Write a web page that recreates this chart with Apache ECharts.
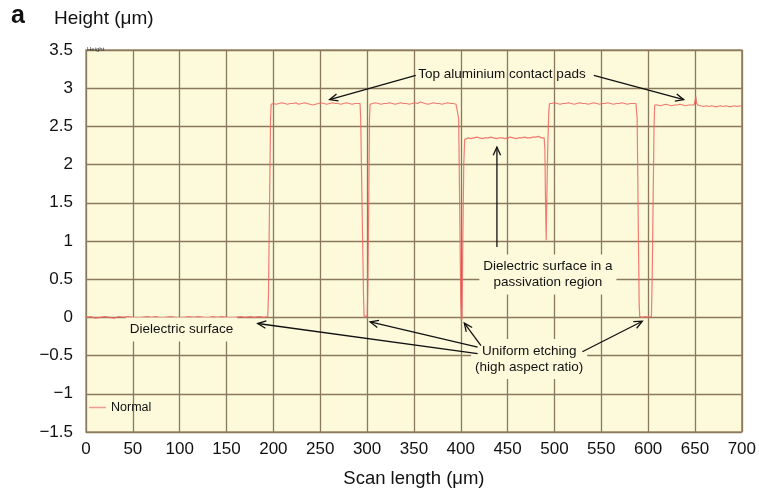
<!DOCTYPE html>
<html><head><meta charset="utf-8">
<script src="https://cdn.jsdelivr.net/npm/echarts@6/dist/echarts.min.js"></script>
<style>html,body{margin:0;padding:0;background:#fff}#c{width:759px;height:495px}</style>
</head><body><div id="c"></div>
<script>
// ---- data (scan length µm, height µm) ----
const dielectric = [[0,0.00],[5,0.01],[10,-0.01],[15,0.00],[20,0.01],[25,0.00],[30,-0.01],[35,0.01],[40,0.00],[45,0.01],[50,0.00],[55,-0.01],[60,0.00],[65,0.01],[70,0.00],[75,0.01],[80,-0.01],[85,0.00],[90,0.01],[95,0.00],[100,-0.01],[105,0.00],[110,0.01],[115,0.00],[120,0.01],[125,0.00],[130,-0.01],[135,0.01],[140,0.00],[145,0.01],[150,0.00],[155,-0.01],[160,0.00],[165,0.01],[170,0.00],[175,0.01],[180,0.00],[185,0.01],[190,0.00],[194,0.01]];
const rise1 = [[194.8,0.3],[195.8,1.4],[197.0,2.6],[197.6,2.79]];
const pad1 = [[200,2.80],[203,2.79],[206,2.80],[209,2.81],[212,2.80],[215,2.79],[218,2.80],[221,2.80],[224,2.81],[227,2.79],[230,2.80],[233,2.81],[236,2.80],[239,2.79],[242,2.78],[245,2.79],[248,2.80],[251,2.81],[254,2.80],[257,2.79],[260,2.80],[263,2.81],[266,2.80],[269,2.80],[272,2.79],[275,2.80],[278,2.81],[281,2.80],[284,2.79],[287,2.80],[290,2.80],[292.5,2.80]];
const trench1 = [[293.2,2.6],[294.6,1.5],[296.2,0.3],[296.8,0.02],[298.5,0.00],[300.2,0.01],[300.8,0.4],[301.8,1.5],[302.6,2.6],[303.2,2.79]];
const pad2 = [[306,2.80],[309,2.81],[312,2.80],[315,2.79],[318,2.80],[321,2.80],[324,2.81],[327,2.80],[330,2.79],[333,2.80],[336,2.81],[339,2.80],[342,2.80],[345,2.79],[348,2.80],[351,2.81],[354,2.80],[357,2.82],[358,2.84],[359,2.81],[362,2.80],[365,2.79],[368,2.80],[371,2.81],[374,2.80],[377,2.80],[380,2.79],[383,2.80],[386,2.81],[389,2.80],[392,2.80],[395,2.79],[397,2.80]];
const trench2 = [[397.8,2.6],[398.8,1.5],[400.0,0.2],[400.6,-0.04],[401.4,0.0],[402.2,1.0],[403.2,2.0],[404.2,2.33],[405,2.35]];
const passivation = [[408,2.35],[411,2.34],[414,2.35],[417,2.36],[420,2.35],[423,2.34],[426,2.35],[429,2.35],[432,2.36],[435,2.35],[438,2.34],[441,2.35],[444,2.35],[447,2.34],[450,2.35],[453,2.36],[456,2.35],[459,2.34],[462,2.35],[465,2.35],[468,2.36],[471,2.35],[474,2.35],[477,2.36],[480,2.36],[483,2.37],[486,2.35],[489,2.35]];
const notch = [[489.8,2.2],[490.4,1.6],[491.2,1.01],[491.8,1.5],[492.8,2.2],[494.0,2.7],[494.8,2.80]];
const pad3 = [[497,2.80],[500,2.81],[503,2.80],[506,2.79],[509,2.80],[512,2.80],[515,2.81],[518,2.80],[521,2.79],[524,2.80],[527,2.81],[530,2.80],[533,2.80],[536,2.79],[539,2.80],[542,2.81],[545,2.80],[548,2.79],[551,2.80],[554,2.80],[557,2.81],[560,2.80],[563,2.79],[566,2.80],[569,2.80],[572,2.81],[575,2.80],[578,2.79],[581,2.80],[584,2.80],[587,2.80]];
const trench3 = [[588.3,2.6],[589.3,1.4],[590.4,0.2],[591,0.01],[594,0.00],[597,0.01],[600,0.00],[603.5,0.01],[604.3,0.5],[605.3,1.5],[606.3,2.5],[607,2.78]];
const pad4 = [[610,2.78],[613,2.77],[616,2.78],[619,2.79],[622,2.78],[625,2.77],[628,2.78],[631,2.78],[634,2.79],[637,2.78],[640,2.77],[643,2.78],[646,2.78],[649,2.78],[650.5,2.80],[651,2.89],[651.6,2.81],[653,2.78],[656,2.77],[659,2.76],[662,2.77],[665,2.76],[668,2.77],[671,2.76],[674,2.76],[677,2.77],[680,2.76],[683,2.77],[686,2.76],[689,2.76],[692,2.77],[695,2.76],[698,2.77],[700,2.76]];

const xMin = 0, xMax = 700, xStep = 50;
const yMin = -1.5, yMax = 3.5, yStep = 0.5;

// annotations anchored in data units
const labels = [
  {text:'Top aluminium contact pads', at:[444,3.18], box:false},
  {text:'Dielectric surface in a\npassivation region', at:[493,0.56], box:true},
  {text:'Dielectric surface', at:[102,-0.16], box:true},
  {text:'Uniform etching\n(high aspect ratio)', at:[473,-0.545], box:true}
];
const arrows = [
  [[352,3.167],[260,2.85]],
  [[542,3.167],[638,2.85]],
  [[438.6,0.92],[438.6,2.23]],
  [[418,-0.475],[183.3,-0.08]],
  [[418,-0.39],[303.3,-0.06]],
  [[421.6,-0.37],[403.8,-0.075]],
  [[529.8,-0.45],[593.8,-0.05]]
];

const profile = [].concat(dielectric, rise1, pad1, trench1, pad2, trench2, passivation, notch, pad3, trench3, pad4);

const FONT = '"Liberation Sans", Arial, Helvetica, sans-serif';
const BG = '#FDFADC';
const chart = echarts.init(document.getElementById('c'), null, {renderer:'canvas'});
const fmt = v => { const s = String(Math.abs(v)); return v < 0 ? '\u2212' + s : s; };

chart.setOption({
  animation:false,
  backgroundColor:'#fff',
  grid:{left:86, right:16, top:50, bottom:63, show:true, backgroundColor:BG, borderColor:'#A8956F', borderWidth:1.5},
  legend:{show:true, left:84, top:396, icon:'rect', itemWidth:17, itemHeight:1.5, itemGap:6,
    textStyle:{fontFamily:FONT, fontSize:12.5, color:'#111'}, data:['Normal']},
  xAxis:{type:'value', min:xMin, max:xMax, interval:xStep,
    axisLine:{show:false}, axisTick:{show:false},
    splitLine:{show:true, lineStyle:{color:'#8A795A', width:1.3}},
    axisLabel:{fontFamily:FONT, fontSize:17, color:'#111', margin:9},
    name:'Scan length (\u03bcm)', nameLocation:'middle', nameGap:37,
    nameTextStyle:{fontFamily:FONT, fontSize:18.5, color:'#111'}},
  yAxis:{type:'value', min:yMin, max:yMax, interval:yStep,
    axisLine:{show:false}, axisTick:{show:false},
    splitLine:{show:true, lineStyle:{color:'#8A795A', width:1.3}},
    axisLabel:{fontFamily:FONT, fontSize:17, color:'#111', margin:13, formatter:fmt}},
  series:[{name:'Normal', type:'line', data:profile, showSymbol:false, symbol:'none',
    lineStyle:{color:'rgba(240,100,95,0.85)', width:1.2}, itemStyle:{color:'#F39A94'}, z:3}]
});

const g = [];
g.push({type:'text', left:11, top:4, z:100, style:{text:'a', font:'bold 25px '+FONT, fill:'#111'}});
g.push({type:'text', left:54, top:9, z:100, style:{text:'Height (\u03bcm)', font:'19px '+FONT, fill:'#111'}});
g.push({type:'text', left:87, top:46, z:100, style:{text:'Height', font:'6px '+FONT, fill:'#333'}});
labels.forEach(l => {
  const p = chart.convertToPixel({gridIndex:0}, l.at);
  const st = {text:l.text, x:p[0], y:p[1], align:'center', verticalAlign:'middle',
    font:'13.5px '+FONT, fill:'#111', lineHeight:16};
  if (l.box) { st.backgroundColor = BG; st.padding = [4,4,4,4]; }
  g.push({type:'text', z:100, style:st});
});
arrows.forEach(a => {
  const p0 = chart.convertToPixel({gridIndex:0}, a[0]);
  const p1 = chart.convertToPixel({gridIndex:0}, a[1]);
  const dx = p0[0]-p1[0], dy = p0[1]-p1[1], L = Math.hypot(dx,dy);
  const ux = dx/L, uy = dy/L, h = 9, ang = 0.42;
  const r = (t) => [p1[0] + h*(ux*Math.cos(t) - uy*Math.sin(t)), p1[1] + h*(ux*Math.sin(t) + uy*Math.cos(t))];
  g.push({type:'line', z:101, shape:{x1:p0[0], y1:p0[1], x2:p1[0], y2:p1[1]}, style:{stroke:'#111', lineWidth:1.3}});
  g.push({type:'polyline', z:101, shape:{points:[r(ang), p1, r(-ang)]}, style:{stroke:'#111', lineWidth:1.3, fill:null}});
});
chart.setOption({graphic:g});
</script></body></html>
